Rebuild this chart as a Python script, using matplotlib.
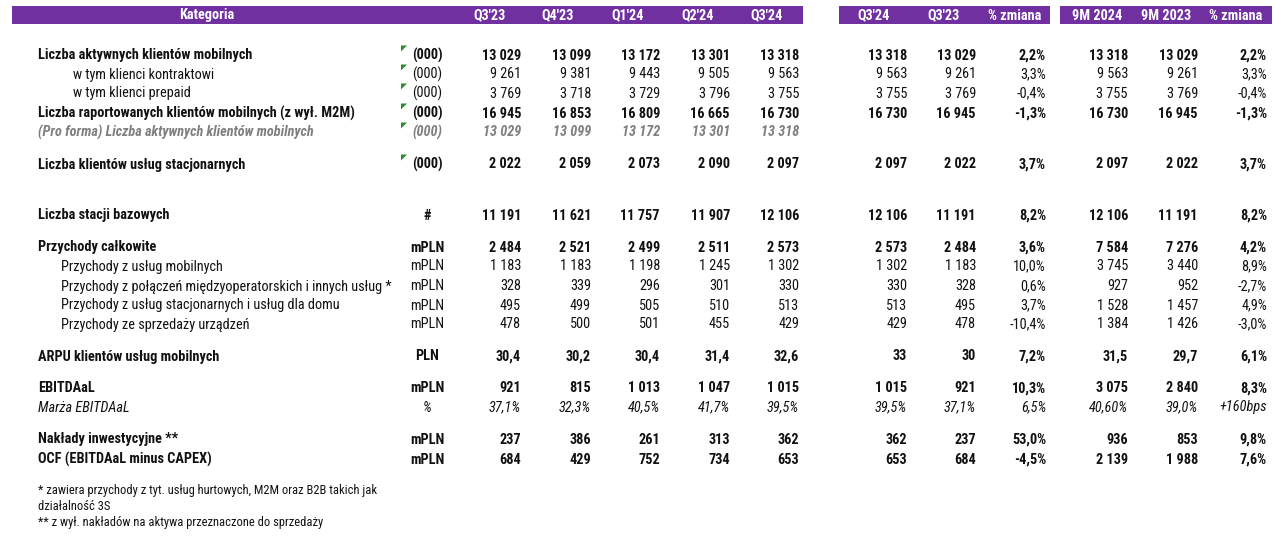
import matplotlib.pyplot as plt
from matplotlib.patches import Rectangle, Polygon

# ---- data ----
quarters = ["Q3'23", "Q4'23", "Q1'24", "Q2'24", "Q3'24"]
yoy_headers = ["Q3'24", "Q3'23", "% zmiana"]
ytd_headers = ["9M 2024", "9M 2023", "% zmiana"]

labels = [
    "Liczba aktywnych klientów mobilnych",
    "w tym klienci kontraktowi",
    "w tym klienci prepaid",
    "Liczba raportowanych klientów mobilnych (z wył. M2M)",
    "(Pro forma) Liczba aktywnych klientów mobilnych",
    "Liczba klientów usług stacjonarnych",
    "Liczba stacji bazowych",
    "Przychody całkowite",
    "Przychody z usług mobilnych",
    "Przychody z połączeń międzyoperatorskich i innych usług *",
    "Przychody z usług stacjonarnych i usług dla domu",
    "Przychody ze sprzedaży urządzeń",
    "ARPU klientów usług mobilnych",
    "EBITDAaL",
    "Marża EBITDAaL",
    "Nakłady inwestycyjne **",
    "OCF (EBITDAaL minus CAPEX)",
]
units = ["(000)", "(000)", "(000)", "(000)", "(000)", "(000)", "#",
         "mPLN", "mPLN", "mPLN", "mPLN", "mPLN", "PLN",
         "mPLN", "%", "mPLN", "mPLN"]

q_values = [
    [13029, 13099, 13172, 13301, 13318],
    [9261, 9381, 9443, 9505, 9563],
    [3769, 3718, 3729, 3796, 3755],
    [16945, 16853, 16809, 16665, 16730],
    [13029, 13099, 13172, 13301, 13318],
    [2022, 2059, 2073, 2090, 2097],
    [11191, 11621, 11757, 11907, 12106],
    [2484, 2521, 2499, 2511, 2573],
    [1183, 1183, 1198, 1245, 1302],
    [328, 339, 296, 301, 330],
    [495, 499, 505, 510, 513],
    [478, 500, 501, 455, 429],
    [30.4, 30.2, 30.4, 31.4, 32.6],
    [921, 815, 1013, 1047, 1015],
    [37.1, 32.3, 40.5, 41.7, 39.5],
    [237, 386, 261, 313, 362],
    [684, 429, 752, 734, 653],
]
# Q3'24, Q3'23, % zmiana
yoy_values = [
    [13318, 13029, 2.2], [9563, 9261, 3.3], [3755, 3769, -0.4],
    [16730, 16945, -1.3], None, [2097, 2022, 3.7], [12106, 11191, 8.2],
    [2573, 2484, 3.6], [1302, 1183, 10.0], [330, 328, 0.6],
    [513, 495, 3.7], [429, 478, -10.4], [33, 30, 7.2],
    [1015, 921, 10.3], [39.5, 37.1, 6.5], [362, 237, 53.0], [653, 684, -4.5],
]
# 9M 2024, 9M 2023, % zmiana
ytd_values = [
    [13318, 13029, 2.2], [9563, 9261, 3.3], [3755, 3769, -0.4],
    [16730, 16945, -1.3], None, [2097, 2022, 3.7], [12106, 11191, 8.2],
    [7584, 7276, 4.2], [3745, 3440, 8.9], [927, 952, -2.7],
    [1528, 1457, 4.9], [1384, 1426, -3.0], [31.5, 29.7, 6.1],
    [3075, 2840, 8.3], [40.60, 39.0, 160], [936, 853, 9.8], [2139, 1988, 7.6],
]
footnotes = [
    "* zawiera przychody z tyt. usług hurtowych, M2M oraz B2B takich jak",
    "działalność 3S",
    "** z wył. nakładów na aktywa przeznaczone do sprzedaży",
]

# ---- layout / styles ----
row_y = [55, 74, 93, 113, 132, 164, 215, 247, 266, 286, 305, 324, 356,
         388, 407, 439, 459]
row_x = [38, 73, 73, 38, 38, 38, 38, 38, 61, 61, 61, 61, 38, 38, 38, 38, 38]
bold = [1, 0, 0, 1, 1, 1, 1, 1, 0, 0, 0, 0, 1, 1, 0, 1, 1]
italic = [0, 0, 0, 0, 1, 0, 0, 0, 0, 0, 0, 0, 0, 0, 1, 0, 0]
grey = [0, 0, 0, 0, 1, 0, 0, 0, 0, 0, 0, 0, 0, 0, 0, 0, 0]
flag = [1, 1, 1, 1, 1, 1, 0, 0, 0, 0, 0, 0, 0, 0, 0, 0, 0]

q_right = [521, 591, 660, 730, 799]
q_center = [489, 558, 628, 698, 767]
yoy_right = [907, 976, 1046]
yoy_center = [874, 944, 1015]
ytd_right = [1128, 1198, 1267]
ytd_center = [1097, 1166, 1236]
unit_x = 427

PURPLE = "#7030A0"
INK = "#111111"
FONT = ["Roboto Condensed", "Liberation Sans Narrow", "Roboto", "DejaVu Sans"]
FS = 10.3


def fmt(v, dec=0, pct=False):
    s = f"{abs(v):,.{dec}f}".replace(",", " ").replace(".", ",")
    if v < 0:
        s = "-" + s
    return s + ("%" if pct else "")


def cell_fmt(i, block, j, v):
    # number formats differ per row / column, mirroring the source table
    if block == "q":
        if i == 14:
            return fmt(v, 1, True)
        if i == 12:
            return fmt(v, 1)
        return fmt(v)
    if j == 2:
        if block == "ytd" and i == 14:
            return f"+{v:.0f}bps"
        return fmt(v, 1, True)
    if i == 14:
        return fmt(v, 2 if (block == "ytd" and j == 0) else 1, True)
    if i == 12:
        return fmt(v, 1 if block == "ytd" else 0)
    return fmt(v)


fig = plt.figure(figsize=(12.75, 5.5), dpi=100)
ax = fig.add_axes([0, 0, 1, 1])
ax.set_xlim(0, 1275)
ax.set_ylim(550, 0)
ax.axis("off")

# header bars
for x0, x1 in [(12, 803), (839, 1050), (1060, 1272)]:
    ax.add_patch(Rectangle((x0, 6), x1 - x0, 18, color=PURPLE, lw=0))
hdr = dict(color="white", fontweight="bold", fontsize=FS, family=FONT,
           ha="center", va="center")
ax.text(207, 15.5, "Kategoria", **hdr)
for x, t in zip(q_center, quarters):
    ax.text(x, 15.5, t, **hdr)
for x, t in zip(yoy_center, yoy_headers):
    ax.text(x, 15.5, t, **hdr)
for x, t in zip(ytd_center, ytd_headers):
    ax.text(x, 15.5, t, **hdr)

for i, lab in enumerate(labels):
    y = row_y[i] + 0.5
    st = dict(fontsize=FS, family=FONT, va="center",
              fontweight="bold" if bold[i] else "normal",
              fontstyle="italic" if italic[i] else "normal",
              color="#7f7f7f" if grey[i] else INK)
    ax.text(row_x[i], y, lab, ha="left", **st)
    ax.text(unit_x, y, units[i], ha="center", **st)
    if flag[i]:
        ax.add_patch(Polygon([(401, y - 10), (407, y - 10), (401, y - 4)],
                             closed=True, color="#2e8b2e", lw=0))
    for j, v in enumerate(q_values[i]):
        ax.text(q_right[j], y, cell_fmt(i, "q", j, v), ha="right", **st)
    if yoy_values[i] is not None:
        for j, v in enumerate(yoy_values[i]):
            ax.text(yoy_right[j], y, cell_fmt(i, "yoy", j, v), ha="right", **st)
    if ytd_values[i] is not None:
        for j, v in enumerate(ytd_values[i]):
            ax.text(ytd_right[j], y, cell_fmt(i, "ytd", j, v), ha="right", **st)

for k, t in enumerate(footnotes):
    ax.text(38, 490.5 + 16 * k, t, fontsize=9, family=FONT, ha="left",
            va="center", color=INK)

fig.savefig("out.png", dpi=100, facecolor="white")
